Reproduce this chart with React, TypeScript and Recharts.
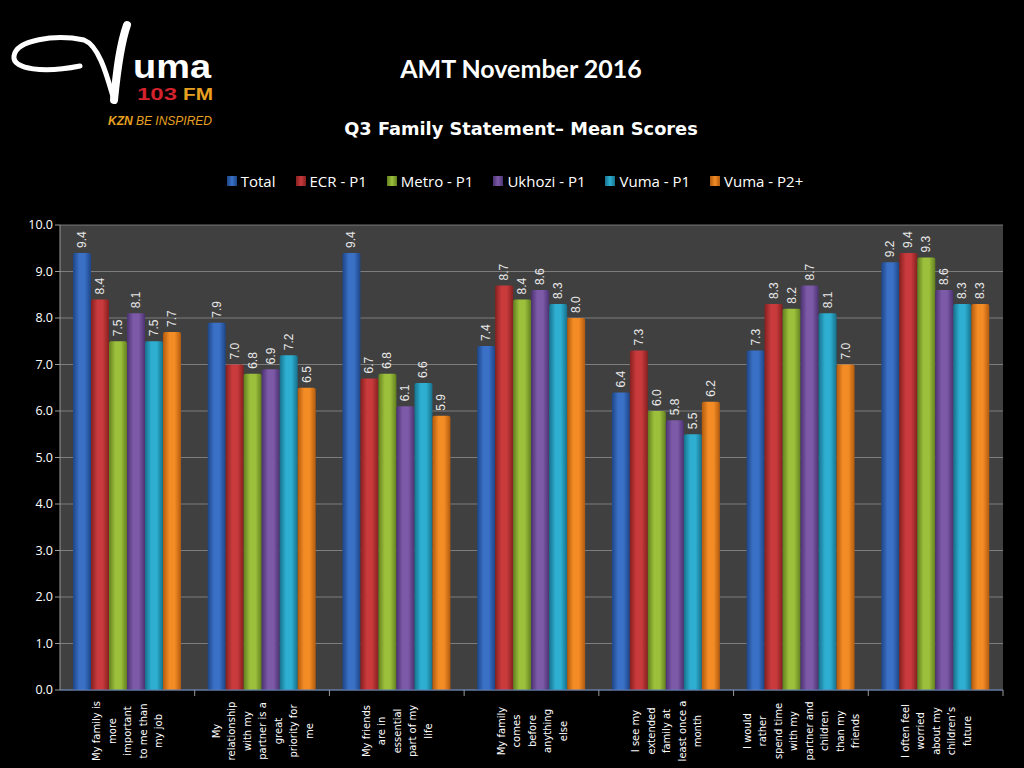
import React from 'react';
import { BarChart, Bar, XAxis, YAxis, CartesianGrid, LabelList } from 'recharts';

const statements = [
    'My family is|more|important|to me than|my job',
    'My|relationship|with my|partner is a|great|priority for|me',
    'My friends|are in|essential|part of my|life',
    'My family|comes|before|anything|else',
    'I see my|extended|family at|least once a|month',
    'I would|rather|spend time|with my|partner and|children|than my|friends',
    'I often feel|worried|about my|children\u2019s|future',
];

const total = [9.4, 7.9, 9.4, 7.4, 6.4, 7.3, 9.2];
const ecrP1 = [8.4, 7.0, 6.7, 8.7, 7.3, 8.3, 9.4];
const metroP1 = [7.5, 6.8, 6.8, 8.4, 6.0, 8.2, 9.3];
const ukhoziP1 = [8.1, 6.9, 6.1, 8.6, 5.8, 8.7, 8.6];
const vumaP1 = [7.5, 7.2, 6.6, 8.3, 5.5, 8.1, 8.3];
const vumaP2 = [7.7, 6.5, 5.9, 8.0, 6.2, 7.0, 8.3];

const yTicks = [0, 1, 2, 3, 4, 5, 6, 7, 8, 9, 10];

const series = [
    { key: 'total', name: 'Total', values: total, color: '#3a70c6', dark: '#1d4585' },
    { key: 'ecr', name: 'ECR - P1', values: ecrP1, color: '#c83a3c', dark: '#86201f' },
    { key: 'metro', name: 'Metro - P1', values: metroP1, color: '#9cc03c', dark: '#62801f' },
    { key: 'ukhozi', name: 'Ukhozi - P1', values: ukhoziP1, color: '#7d5aa8', dark: '#4c3272' },
    { key: 'vuma', name: 'Vuma - P1', values: vumaP1, color: '#2eaed0', dark: '#16718c' },
    { key: 'vuma2', name: 'Vuma - P2+', values: vumaP2, color: '#f48c26', dark: '#b15a0e' },
];

const data = statements.map((s, i) => {
    const row: Record<string, number | string> = { name: s };
    series.forEach(sr => { row[sr.key] = sr.values[i]; });
    return row;
});

const StatementTick = (props: any) => {
    const { x, y, payload } = props;
    const lines = String(payload.value).split('|');
    const lh = 15.5;
    const band = 943 / 7;
    const ty = y + 33;
    return (
        <g>
            <line x1={x + band / 2} x2={x + band / 2} y1={y - 8} y2={y - 2} stroke="#9a9a9a" />
            <text
                transform={`rotate(-90, ${x}, ${ty})`}
                x={x}
                y={ty}
                fill="#ffffff"
                fontSize={10}
                fontFamily="DejaVu Sans"
                textAnchor="middle"
                dominantBaseline="central"
            >
                {lines.map((l, i) => (
                    <tspan key={i} x={x} dy={i === 0 ? -((lines.length - 1) / 2) * lh : lh}>{l}</tspan>
                ))}
            </text>
        </g>
    );
};

const ValueLabel = (props: any) => {
    const { x, y, width, value } = props;
    const cx = x + width / 2;
    const cy = y - 5;
    return (
        <text
            transform={`rotate(-90, ${cx}, ${cy})`}
            x={cx}
            y={cy}
            fill="#e8e8e8"
            fontSize={12}
            fontFamily="Liberation Sans"
            textAnchor="start"
            dominantBaseline="central"
        >
            {Number(value).toFixed(1)}
        </text>
    );
};

const Logo = () => (
    <svg width={240} height={130} style={{ position: 'absolute', left: 0, top: 10 }}>
        <path d="M 80 56 C 45 63 12 60 14 46 C 16 30 55 24 84 30 C 100 36 108 70 114 90" stroke="#fff" strokeWidth={5} fill="none" strokeLinecap="round" />
        <path d="M 114 90 C 117 60 120 35 127 15" stroke="#fff" strokeWidth={8} fill="none" strokeLinecap="round" />
        <text x={133} y={68} fill="#fff" fontSize={34} fontWeight="bold" fontFamily="Liberation Sans" textLength={78} lengthAdjust="spacingAndGlyphs">uma</text>
        <text x={137} y={90} fill="#d3222c" fontSize={16} fontWeight="bold" fontFamily="Liberation Sans" textLength={40} lengthAdjust="spacingAndGlyphs">103</text>
        <text x={183} y={90} fill="#e8a020" fontSize={16} fontWeight="bold" fontFamily="Liberation Sans" textLength={30} lengthAdjust="spacingAndGlyphs">FM</text>
        <text x={108} y={115} fill="#e8a020" fontSize={12} fontStyle="italic" fontFamily="Liberation Sans">
            <tspan fontWeight="bold">KZN</tspan> BE INSPIRED
        </text>
    </svg>
);

const LegendRow = () => (
    <div style={{ position: 'absolute', left: 0, top: 171, width: 1030, display: 'flex', justifyContent: 'center', gap: 20, fontFamily: 'Open Sans', fontSize: 15, color: '#fff' }}>
        {series.map(s => (
            <div key={s.key} style={{ display: 'flex', alignItems: 'center', gap: 4 }}>
                <span style={{ display: 'inline-block', width: 10, height: 10, background: `linear-gradient(90deg, ${s.dark}, ${s.color}, ${s.dark})` }} />
                <span>{s.name}</span>
            </div>
        ))}
    </div>
);

export default function App() {
    return (
        <div style={{ position: 'absolute', left: 0, top: 0, width: 1024, height: 768, background: '#000', overflow: 'hidden' }}>
            <Logo />
            <div style={{ position: 'absolute', left: 0, top: 53, width: 1042, textAlign: 'center', color: '#fff', fontFamily: 'Lato', fontWeight: 'bold', fontSize: 25 }}>
                AMT November 2016
            </div>
            <div style={{ position: 'absolute', left: 0, top: 118, width: 1042, textAlign: 'center', color: '#fff', fontFamily: 'DejaVu Sans', fontWeight: 'bold', fontSize: 17.8 }}>
                Q3 Family Statement{'\u2013'} Mean Scores
            </div>
            <LegendRow />
            <BarChart
                width={1024}
                height={768}
                data={data}
                margin={{ top: 225, right: 21, left: 10, bottom: 0 }}
                barGap={0}
                barCategoryGap={13}
                style={{ position: 'absolute', left: 0, top: 0 }}
            >
                <defs>
                    {series.map(s => (
                        <linearGradient key={s.key} id={`g-${s.key}`} x1="0" y1="0" x2="1" y2="0">
                            <stop offset="0%" stopColor={s.dark} />
                            <stop offset="35%" stopColor={s.color} />
                            <stop offset="65%" stopColor={s.color} />
                            <stop offset="100%" stopColor={s.dark} />
                        </linearGradient>
                    ))}
                </defs>
                <CartesianGrid vertical={false} fill="#404040" stroke="#8c8c8c" strokeOpacity={0.8} />
                <XAxis
                    dataKey="name"
                    interval={0}
                    height={78}
                    tick={<StatementTick />}
                    tickLine={false}
                    axisLine={{ stroke: '#5b7fb8' }}
                />
                <YAxis
                    width={50}
                    domain={[0, 10]}
                    ticks={yTicks}
                    tickFormatter={(v: number) => v.toFixed(1)}
                    tick={{ fill: '#ffffff', fontSize: 12.5, fontFamily: 'Open Sans' }}
                    axisLine={{ stroke: '#9a9a9a' }}
                    tickLine={{ stroke: '#9a9a9a' }}
                    tickSize={5}
                />
                <YAxis yAxisId="right" orientation="right" width={0} domain={[0, 10]} tick={false} tickLine={false} axisLine={{ stroke: '#8c8c8c' }} />
                {series.map(s => (
                    <Bar key={s.key} dataKey={s.key} name={s.name} fill={`url(#g-${s.key})`} radius={[2, 2, 0, 0]} isAnimationActive={false}>
                        <LabelList dataKey={s.key} content={<ValueLabel />} />
                    </Bar>
                ))}
            </BarChart>
        </div>
    );
}
